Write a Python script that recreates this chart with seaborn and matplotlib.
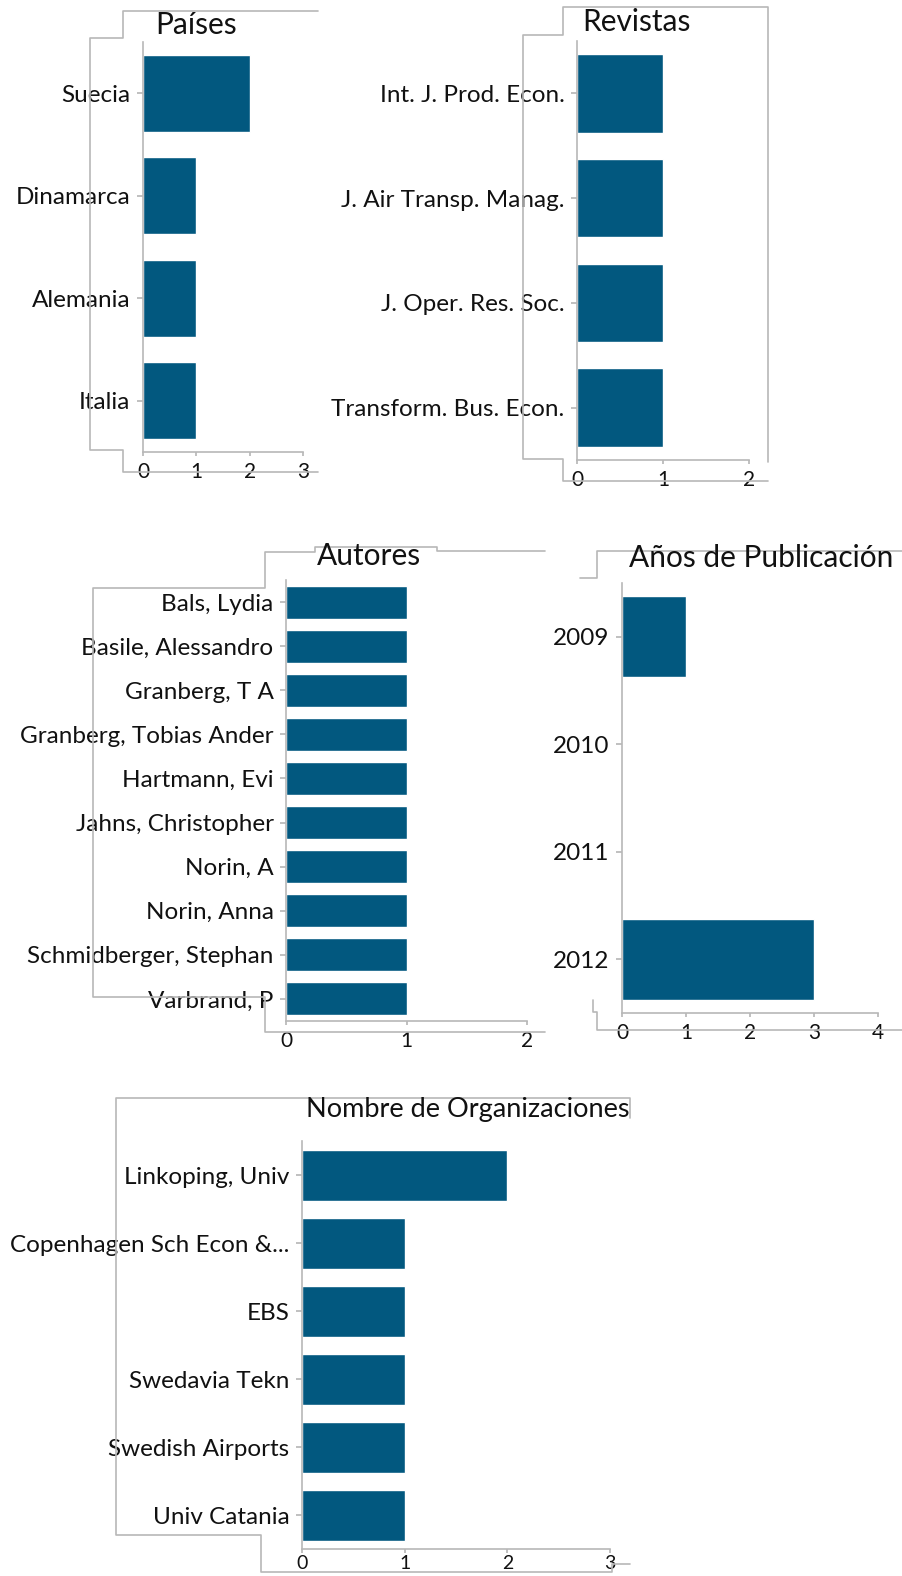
"""Collage de graficos de barras horizontales (paises, revistas, autores, anos, organizaciones)"""
import numpy as np
import pandas as pd
import matplotlib
matplotlib.use('Agg')
import matplotlib.pyplot as plt
import seaborn as sns
from matplotlib.lines import Line2D

# Datos de cada panel
paises = ['Suecia', 'Dinamarca', 'Alemania', 'Italia']
paises_n = [2, 1, 1, 1]

revistas = ['Int. J. Prod. Econ.', 'J. Air Transp. Manag.', 'J. Oper. Res. Soc.', 'Transform. Bus. Econ.']
revistas_n = [1, 1, 1, 1]

autores = ['Bals, Lydia', 'Basile, Alessandro', 'Granberg, T A', 'Granberg, Tobias Ander', 'Hartmann, Evi',
           'Jahns, Christopher', 'Norin, A', 'Norin, Anna', 'Schmidberger, Stephan', 'Varbrand, P']
autores_n = [1, 1, 1, 1, 1, 1, 1, 1, 1, 1]

anos = ['2009', '2010', '2011', '2012']
anos_n = [1, 0, 0, 3]

orgs = ['Linkoping, Univ', 'Copenhagen Sch Econ &...', 'EBS', 'Swedavia Tekn', 'Swedish Airports', 'Univ Catania']
orgs_n = [2, 1, 1, 1, 1, 1]

W, H = 902, 1576
COLOR = '#02587f'
GRIS = '#b8b8b8'
TEXTO = '#111111'

sns.set_theme(style='white')
plt.rcParams['font.family'] = ['Lato', 'DejaVu Sans']

fig = plt.figure(figsize=(W / 100, H / 100), dpi=100)


def caja(x0, x1, y0, y1):
    """Convierte pixeles (origen arriba-izquierda) en rect de figura"""
    return [x0 / W, 1 - y1 / H, (x1 - x0) / W, (y1 - y0) / H]


def panel(rect, labels, values, xmax, titulo, tpos, tsize=21.5, xsize=15, xpad=4):
    ax = fig.add_axes(caja(*rect))
    df = pd.DataFrame({'cat': labels, 'n': values})
    sns.barplot(data=df, x='n', y='cat', orient='h', color=COLOR, width=0.75,
                saturation=1, ax=ax)
    ax.set_xlim(0, xmax)
    ax.set_xticks(range(xmax + 1))
    ax.set_xlabel('')
    ax.set_ylabel('')
    for s in ['top', 'right']:
        ax.spines[s].set_visible(False)
    for s in ['left', 'bottom']:
        ax.spines[s].set_color(GRIS)
        ax.spines[s].set_linewidth(1.2)
    ax.tick_params(axis='y', length=4, color=GRIS, pad=5, labelsize=17.5, labelcolor=TEXTO, left=True)
    ax.tick_params(axis='x', length=3, color=GRIS, pad=xpad, labelsize=xsize, labelcolor=TEXTO, bottom=True)
    ax.set_facecolor('white')
    fig.text(tpos[0] / W, 1 - tpos[1] / H, titulo, ha='center', va='center', fontsize=tsize, color=TEXTO)
    return ax


def borde(puntos):
    xs = [p[0] / W for p in puntos]
    ys = [1 - p[1] / H for p in puntos]
    fig.add_artist(Line2D(xs, ys, color=GRIS, lw=1.2, transform=fig.transFigure))


panel((143, 303, 42, 452), paises, paises_n, 3, 'Países', (196, 25))
panel((577, 749, 41, 460), revistas, revistas_n, 2, 'Revistas', (636, 22))
panel((286, 527, 580, 1021), autores, autores_n, 2, 'Autores', (369, 556))
panel((622, 878, 583, 1013), anos, anos_n, 4, 'Años de Publicación', (761, 558))
panel((302, 610, 1141, 1549), orgs, orgs_n, 3, 'Nombre de Organizaciones', (468, 1110),
      tsize=19.5, xsize=14, xpad=1)

# Bordes recortados de las capturas originales
borde([(318, 11), (123, 11), (123, 38), (90, 38), (90, 450), (123, 450), (123, 472), (318, 472)])
borde([(768, 462), (768, 7), (563, 7), (563, 35), (523, 35), (523, 459), (563, 459), (563, 481), (768, 481)])
borde([(545, 551), (437, 551), (437, 547), (315, 547), (315, 552), (265, 552), (265, 588), (93, 588),
       (93, 997), (265, 997), (265, 1032), (545, 1032)])
borde([(580, 578), (597, 578), (597, 551), (902, 551)])
borde([(593, 1000), (593, 1012), (597, 1012), (597, 1030), (902, 1030)])
borde([(630, 1118), (630, 1098), (116, 1098), (116, 1535), (261, 1535), (261, 1572), (612, 1572),
       (612, 1564), (630, 1564)])

fig.savefig('out.png', dpi=100, facecolor='white')
